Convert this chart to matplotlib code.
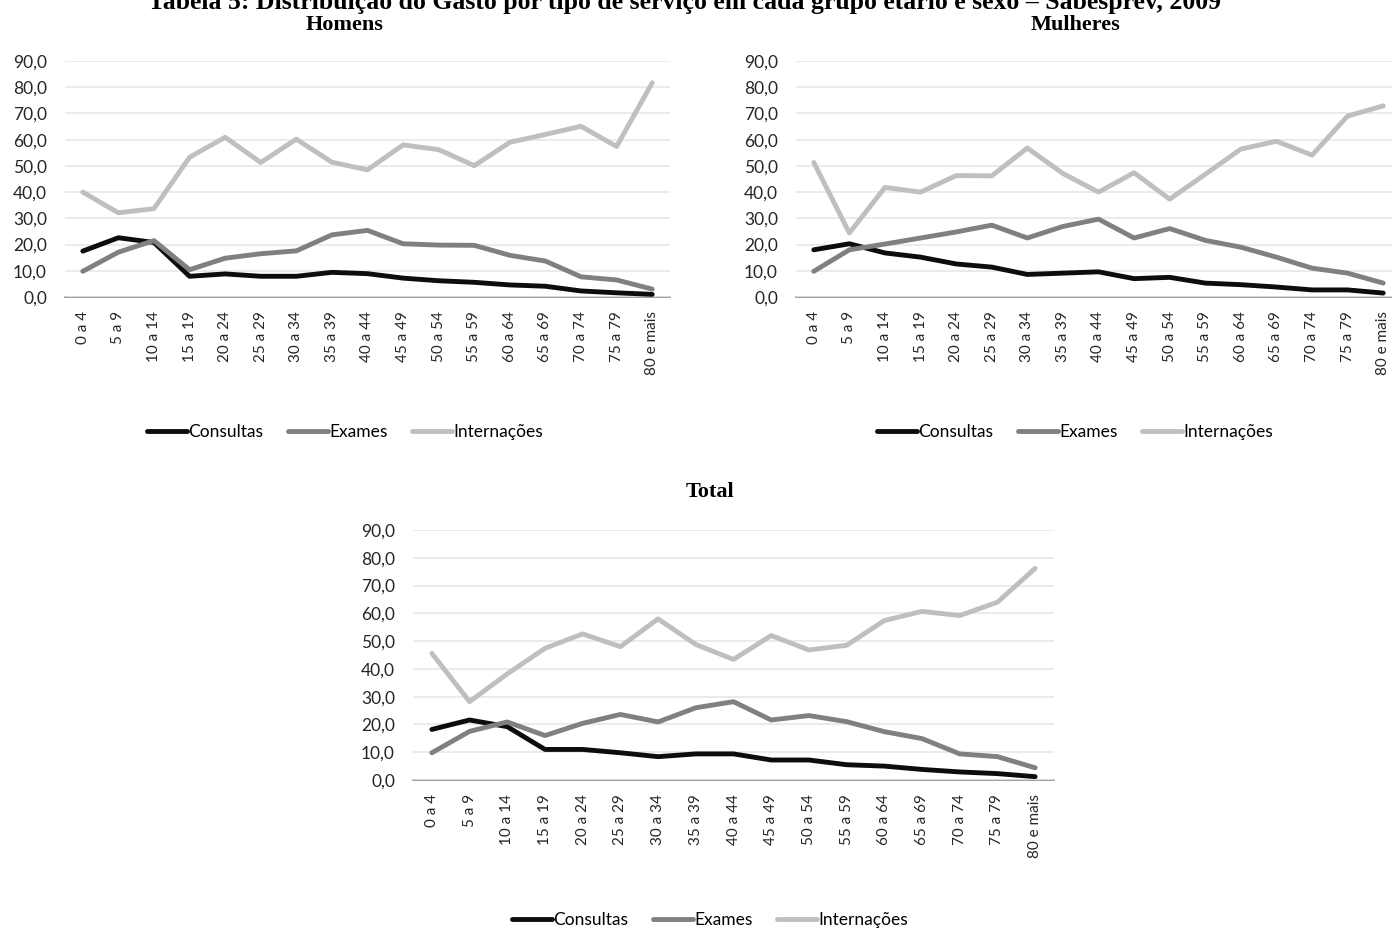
import matplotlib
matplotlib.use("Agg")
import matplotlib.pyplot as plt

plt.rcParams["font.family"] = ["Lato", "DejaVu Sans"]
plt.rcParams["font.size"] = 10.5

faixas = ["0 a 4", "5 a 9", "10 a 14", "15 a 19", "20 a 24", "25 a 29", "30 a 34",
          "35 a 39", "40 a 44", "45 a 49", "50 a 54", "55 a 59", "60 a 64",
          "65 a 69", "70 a 74", "75 a 79", "80 e mais"]

# Homens
hom_consultas = [17.5, 22.6, 20.8, 7.9, 8.8, 7.9, 7.9, 9.4, 8.9, 7.2, 6.2, 5.6, 4.6, 4.1, 2.3, 1.6, 1.0]
hom_exames = [9.8, 17.1, 21.5, 10.4, 14.8, 16.5, 17.6, 23.7, 25.4, 20.3, 19.8, 19.7, 15.9, 13.7, 7.7, 6.5, 3.0]
hom_internacoes = [40.0, 32.1, 33.7, 53.3, 60.9, 51.3, 60.2, 51.4, 48.5, 58.0, 56.2, 50.1, 59.0, 62.0, 65.1, 57.4, 81.7]

# Mulheres
mul_consultas = [18.0, 20.3, 16.8, 15.2, 12.6, 11.4, 8.6, 9.1, 9.6, 7.0, 7.5, 5.3, 4.7, 3.8, 2.7, 2.7, 1.5]
mul_exames = [9.8, 18.0, 20.2, 22.5, 24.8, 27.4, 22.5, 26.9, 29.7, 22.5, 26.1, 21.6, 19.0, 15.2, 11.0, 9.1, 5.3]
mul_internacoes = [51.3, 24.4, 41.8, 40.0, 46.3, 46.2, 56.8, 47.1, 40.0, 47.4, 37.3, 46.8, 56.4, 59.4, 54.1, 69.0, 72.9]

# Total
tot_consultas = [18.2, 21.6, 19.2, 11.0, 11.0, 9.8, 8.4, 9.4, 9.4, 7.2, 7.2, 5.5, 5.0, 3.8, 2.9, 2.3, 1.2]
tot_exames = [9.8, 17.5, 20.9, 16.0, 20.4, 23.6, 20.9, 26.0, 28.2, 21.6, 23.2, 21.0, 17.4, 14.9, 9.4, 8.4, 4.4]
tot_internacoes = [45.6, 28.2, 38.2, 47.4, 52.6, 48.0, 58.0, 48.8, 43.4, 52.0, 46.8, 48.5, 57.4, 60.7, 59.2, 64.0, 76.2]

yticks = [0, 10, 20, 30, 40, 50, 60, 70, 80, 90]
series = ["Consultas", "Exames", "Internações"]
cores = ["#0d0d0d", "#808080", "#bfbfbf"]

W, H = 1392, 930
fig = plt.figure(figsize=(W / 100, H / 100), dpi=100)


def painel(l, t, r, b, titulo, dados, leg_x, leg_y, tit_y):
    ax = fig.add_axes([l / W, 1 - b / H, (r - l) / W, (b - t) / H])
    x = list(range(len(faixas)))
    for nome, vals, cor in zip(series, dados, cores):
        ax.plot(x, vals, color=cor, lw=3.5, label=nome,
                solid_capstyle="round", solid_joinstyle="round")
    ax.set_xlim(-0.5, len(faixas) - 0.5)
    ax.set_ylim(0, 90)
    ax.set_yticks(yticks)
    ax.set_yticklabels([f"{v:.1f}".replace(".", ",") for v in yticks],
                       color="#262626", fontsize=12.5)
    ax.set_xticks(x)
    ax.set_xticklabels(faixas, rotation=90, color="#262626", fontsize=11)
    ax.tick_params(length=0, pad=13)
    ax.tick_params(axis="x", pad=10)
    ax.grid(axis="y", color="#e1e8f4", lw=1.2)
    ax.set_axisbelow(True)
    for s in ["top", "left", "right"]:
        ax.spines[s].set_visible(False)
    ax.spines["bottom"].set_color("#8c8c8c")
    ax.spines["bottom"].set_linewidth(1.2)
    ax.spines["bottom"].set_zorder(0.5)
    fig.text(leg_x / W, 1 - tit_y / H, titulo, ha="center", va="center",
             family="Liberation Serif", weight="bold", fontsize=16)
    h, lab = ax.get_legend_handles_labels()
    fig.legend(h, lab, loc="center", bbox_to_anchor=(leg_x / W, 1 - leg_y / H),
               ncol=3, frameon=False, handlelength=2.3, handletextpad=0.1,
               columnspacing=1.4, fontsize=12.5)
    return ax


painel(65, 61, 670, 297, "Homens", [hom_consultas, hom_exames, hom_internacoes], 345, 432, 25)
painel(796, 61, 1401, 297, "Mulheres", [mul_consultas, mul_exames, mul_internacoes], 1075, 432, 25)
painel(413, 530, 1054, 780, "Total", [tot_consultas, tot_exames, tot_internacoes], 710, 920, 492)

fig.text(685 / W, 1 - 9 / H,
         "Tabela 5: Distribuição do Gasto por tipo de serviço em cada grupo etário e sexo – Sabesprev, 2009",
         ha="center", va="baseline", family="Liberation Serif", weight="bold", fontsize=18.5)

fig.savefig("out.png", dpi=100)
